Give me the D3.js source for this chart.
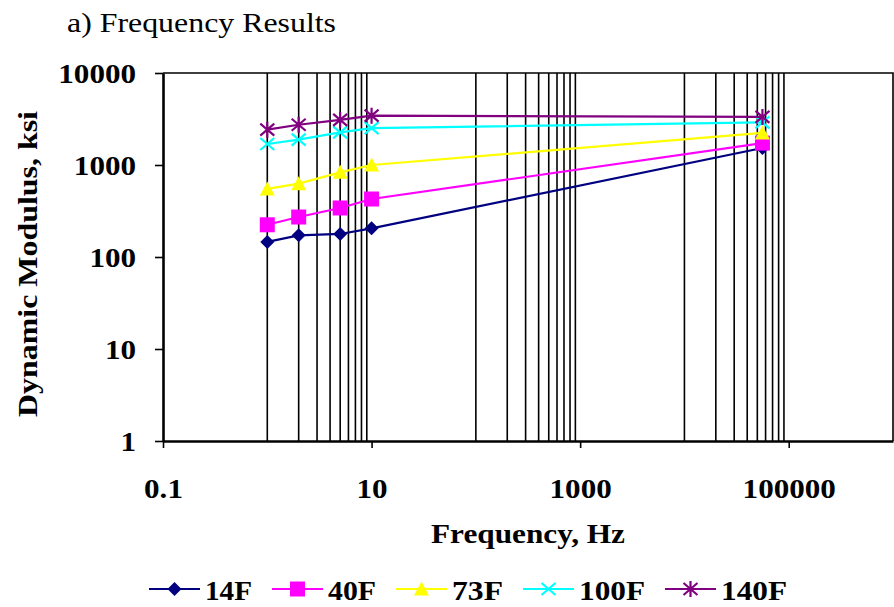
<!DOCTYPE html>
<html>
<head>
<meta charset="utf-8">
<script src="https://cdn.jsdelivr.net/npm/d3@7"></script>
<style>
  html, body { margin: 0; padding: 0; background: #fff; }
  svg { display: block; }
  text { font-family: "Liberation Serif", "Times New Roman", serif; fill: #000; }
</style>
</head>
<body>
<svg id="chart" width="894" height="607"></svg>
<script>
// Dynamic modulus vs. loading frequency, one series per test temperature
const frequencies = [1, 2, 5, 10, 56000];
const seriesNames = ["14F", "40F", "73F", "100F", "140F"];
const modulus14F  = [146, 172, 178, 205, 1530];
const modulus40F  = [224, 272, 341, 427, 1730];
const modulus73F  = [550, 627, 832, 1000, 2230];
const modulus100F = [1690, 1885, 2260, 2520, 2900];
const modulus140F = [2420, 2740, 3100, 3440, 3330];
const seriesColors = ["#000080", "#FF00FF", "#FFFF00", "#00FFFF", "#800080"];
const seriesMarkers = ["diamond", "square", "triangle", "cross", "star"];

const xTicks = [0.1, 10, 1000, 100000];
const xTickLabels = ["0.1", "10", "1000", "100000"];
const yTicks = [1, 10, 100, 1000, 10000];
const yTickLabels = ["1", "10", "100", "1000", "10000"];
const gridDecades = [1, 100, 10000];   // decades that carry vertical minor gridlines

const seriesValues = [modulus14F, modulus40F, modulus73F, modulus100F, modulus140F];

const svg = d3.select("#chart");
const plot = { left: 163, right: 893, top: 73, bottom: 441 };

const x = d3.scaleLog().domain([0.1, 1e6]).range([plot.left, plot.right]);
const y = d3.scaleLog().domain([1, 10000]).range([plot.bottom, plot.top]);

// Vertical gridlines at 1..9 x decade
const gridVals = [];
gridDecades.forEach(d => { for (let k = 1; k <= 9; k++) gridVals.push(k * d); });
svg.append("g").selectAll("line").data(gridVals).join("line")
  .attr("x1", d => x(d)).attr("x2", d => x(d))
  .attr("y1", plot.top).attr("y2", plot.bottom)
  .attr("stroke", "#000").attr("stroke-width", 1.6);

// Plot frame (top and right)
svg.append("path")
  .attr("d", `M${plot.left},${plot.top}H${plot.right}V${plot.bottom}`)
  .attr("fill", "none").attr("stroke", "#000").attr("stroke-width", 1.6);

// Axes
const xAxis = d3.axisBottom(x).tickValues(xTicks)
  .tickFormat((d, i) => xTickLabels[i]).tickSizeInner(7).tickSizeOuter(0).tickPadding(30);
const yAxis = d3.axisLeft(y).tickValues(yTicks)
  .tickFormat((d, i) => yTickLabels[i]).tickSizeInner(8).tickSizeOuter(0).tickPadding(19);

const gx = svg.append("g").attr("transform", `translate(0,${plot.bottom})`).call(xAxis);
const gy = svg.append("g").attr("transform", `translate(${plot.left},0)`).call(yAxis);

[gx, gy].forEach(g => {
  g.select(".domain").attr("stroke", "#000").attr("stroke-width", 2.6);
  g.selectAll(".tick line").attr("stroke", "#000").attr("stroke-width", 1.6);
  g.selectAll(".tick text")
    .attr("font-family", "Liberation Serif, Times New Roman, serif")
    .attr("font-size", 28).attr("font-weight", "bold").attr("fill", "#000");
});
gx.selectAll(".tick text").attr("dy", "0.71em");
gy.selectAll(".tick text").attr("dy", "0.34em");
// widen the numerals slightly
[gx, gy].forEach(g => g.selectAll(".tick text").each(function () {
  const w = this.getComputedTextLength();
  d3.select(this).attr("textLength", w * 1.11).attr("lengthAdjust", "spacingAndGlyphs");
}));

// Titles
svg.append("text").attr("x", 67).attr("y", 32)
  .attr("font-size", 28).attr("textLength", 269).attr("lengthAdjust", "spacingAndGlyphs")
  .text("a) Frequency Results");

svg.append("text").attr("x", 431).attr("y", 543)
  .attr("font-size", 28).attr("font-weight", "bold")
  .attr("textLength", 194).attr("lengthAdjust", "spacingAndGlyphs")
  .text("Frequency, Hz");

svg.append("text")
  .attr("transform", "translate(37,264) rotate(-90)")
  .attr("text-anchor", "middle")
  .attr("font-size", 28).attr("font-weight", "bold")
  .attr("textLength", 306).attr("lengthAdjust", "spacingAndGlyphs")
  .text("Dynamic Modulus, ksi");

// Marker drawing
function drawMarker(g, type, color) {
  if (type === "diamond") {
    g.append("path").attr("d", "M0,-7L7,0L0,7L-7,0Z").attr("fill", color);
  } else if (type === "square") {
    g.append("rect").attr("x", -7.5).attr("y", -7.5).attr("width", 15).attr("height", 15).attr("fill", color);
  } else if (type === "triangle") {
    g.append("path").attr("d", "M0,-7.5L7.5,6.5L-7.5,6.5Z").attr("fill", color);
  } else if (type === "cross") {
    g.append("path").attr("d", "M-7,-6L7,6M-7,6L7,-6").attr("stroke", color).attr("stroke-width", 2.2);
  } else if (type === "star") {
    g.append("path").attr("d", "M-7,-6L7,6M-7,6L7,-6M0,-8V8").attr("stroke", color).attr("stroke-width", 2.2);
  }
}

const line = d3.line().x(d => x(d[0])).y(d => y(d[1]));

seriesNames.forEach((name, si) => {
  const pts = frequencies.map((f, i) => [f, seriesValues[si][i]]);
  const g = svg.append("g");
  g.append("path").attr("d", line(pts)).attr("fill", "none")
    .attr("stroke", seriesColors[si]).attr("stroke-width", 2.2);
  pts.forEach(p => {
    const mg = g.append("g").attr("transform", `translate(${x(p[0])},${y(p[1])})`);
    drawMarker(mg, seriesMarkers[si], seriesColors[si]);
  });
});

// Legend
const legendTextWidths = [47, 48, 51, 66, 66];
let lx = 149;
const ly = 589;
seriesNames.forEach((name, si) => {
  const g = svg.append("g");
  g.append("line").attr("x1", lx).attr("x2", lx + 51).attr("y1", ly).attr("y2", ly)
    .attr("stroke", seriesColors[si]).attr("stroke-width", 2.2);
  const mg = g.append("g").attr("transform", `translate(${lx + 25.5},${ly})`);
  drawMarker(mg, seriesMarkers[si], seriesColors[si]);
  g.append("text").attr("x", lx + 56).attr("y", ly + 11)
    .attr("font-size", 28).attr("font-weight", "bold")
    .attr("textLength", legendTextWidths[si]).attr("lengthAdjust", "spacingAndGlyphs")
    .text(name);
  lx += 56 + legendTextWidths[si] + 20;
});
</script>
</body>
</html>
